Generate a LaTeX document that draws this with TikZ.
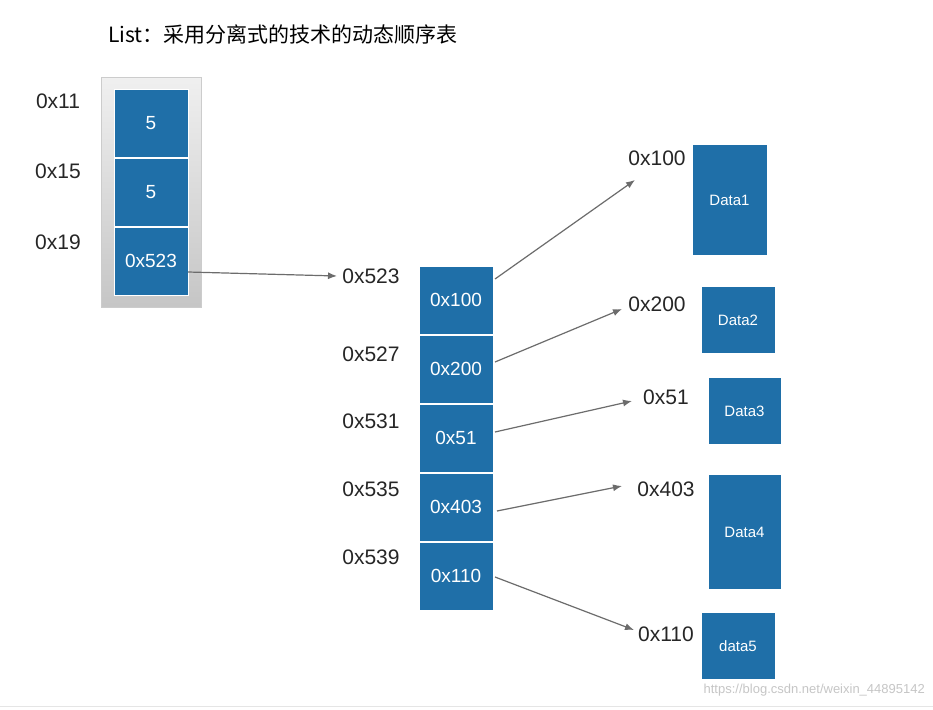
\documentclass[tikz,border=0pt]{standalone}
\usepackage{fontspec}
\setmainfont{Liberation Sans}
\newfontfamily\cjk{Noto Sans CJK SC}
\begin{document}
\begin{tikzpicture}[x=1pt,y=-1pt,
  cell/.style={fill=cellblue,draw=white,line width=0.6pt},
  lbl/.style={font=\fontsize{21}{24}\selectfont,text=black!85,inner sep=0},
  ctext/.style={font=\fontsize{19}{22}\selectfont,text=white,inner sep=0},
  dtext/.style={font=\fontsize{15}{18}\selectfont,text=white,inner sep=0},
  arr/.style={draw=gray!85!black,line width=1.2pt,-{Latex[length=9pt,width=7pt]}}]
\usetikzlibrary{arrows.meta}
\definecolor{cellblue}{HTML}{1F6FA8}
\useasboundingbox (0,0) rectangle (933,709);
\fill[white] (0,0) rectangle (933,709);
\node[anchor=west,inner sep=0,font=\cjk\fontsize{21}{24}\selectfont] (title) at (108,34) {List：采用分离式的技术的动态顺序表};
% container
\shade[top color=gray!12,bottom color=gray!45,draw=gray!40] (101,77) rectangle (201,307);
\node[draw=none,minimum width=0,inner sep=0] (cont) at (151,192) {};
\foreach \n/\y/\t in {a/89/5,b/158/5,c/227/0x523}{
  \fill[cell] (114,\y) rectangle (188,\y+68);
  \node[ctext] (cell\n) at (151,\y+34) {\t};
}
\node[lbl] (l11) at (58,101) {0x11};
\node[lbl] (l15) at (58,171) {0x15};
\node[lbl] (l19) at (58,242) {0x19};
% middle
\foreach \n/\y/\t in {1/266/0x100,2/335/0x200,3/404/0x51,4/473/0x403,5/542/0x110}{
  \fill[cell] (419,\y) rectangle (493,\y+68);
  \node[ctext] (m\n) at (456,\y+34) {\t};
}
\node[lbl] (ml1) at (371,276) {0x523};
\node[lbl] (ml2) at (371,354) {0x527};
\node[lbl] (ml3) at (371,421) {0x531};
\node[lbl] (ml4) at (371,489) {0x535};
\node[lbl] (ml5) at (371,557) {0x539};
% data boxes
\fill[cell] (692,144) rectangle (767,255); \node[dtext] (d1) at (729.5,200) {Data1};
\fill[cell] (701,286) rectangle (775,353); \node[dtext] (d2) at (738,320) {Data2};
\fill[cell] (708,377) rectangle (781,444); \node[dtext] (d3) at (744.5,411) {Data3};
\fill[cell] (708,474) rectangle (781,589); \node[dtext] (d4) at (744.5,532) {Data4};
\fill[cell] (701,612) rectangle (775,679); \node[dtext] (d5) at (738,646) {data5};
\node[lbl] (r1) at (657,158) {0x100};
\node[lbl] (r2) at (657,304) {0x200};
\node[lbl] (r3) at (666,397) {0x51};
\node[lbl] (r4) at (666,489) {0x403};
\node[lbl] (r5) at (666,634) {0x110};
% arrows
\coordinate (s0) at (188,272); \coordinate (e0) at (337,276);
\draw[arr] (s0) -- (e0);
\coordinate (s1) at (495,279); \coordinate (e1) at (635,180);
\coordinate (s2) at (495,362); \coordinate (e2) at (622,309);
\coordinate (s3) at (495,432); \coordinate (e3) at (632,401);
\coordinate (s4) at (497,511); \coordinate (e4) at (622,486);
\coordinate (s5) at (495,577); \coordinate (e5) at (634,630);
\foreach \i in {1,...,5}{\draw[arr] (s\i) -- (e\i);}
\node[anchor=east,inner sep=0,font=\fontsize{13}{15}\selectfont,text=gray!45] (wm) at (925,690) {https://blog.csdn.net/weixin\_44895142};
\draw[gray!20] (0,706) -- (933,706);
\end{tikzpicture}
\end{document}
